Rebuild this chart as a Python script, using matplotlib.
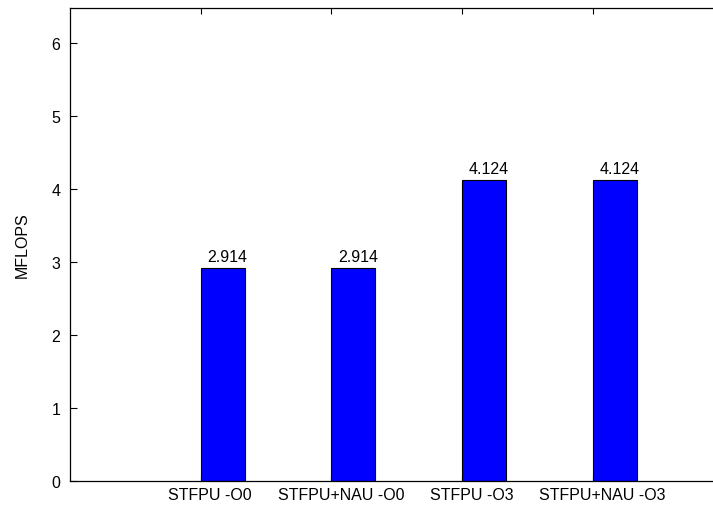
import matplotlib
matplotlib.use('Agg')
import matplotlib.pyplot as plt

plt.rcParams['font.family'] = ['Liberation Sans', 'DejaVu Sans']
plt.rcParams['font.size'] = 11.5

configs = ['STFPU -O0', 'STFPU+NAU -O0', 'STFPU -O3', 'STFPU+NAU -O3']
mflops = [2.914, 2.914, 4.124, 4.124]
value_labels = ['2.914', '2.914', '4.124', '4.124']
xpos = [1, 2, 3, 4]

bar_w = 0.336

fig = plt.figure(figsize=(7.13, 5.10), dpi=100)
ax = fig.add_axes([70/713, (510-482)/510, 653.5/713, 473/510])

# bars start at the tic and extend to the right, gnuplot-style
ax.bar(xpos, mflops, width=bar_w, align='edge', color='#0000ff',
       edgecolor='black', linewidth=0.8, zorder=2)

for x, v, s in zip(xpos, mflops, value_labels):
    ax.annotate(s, xy=(x + bar_w/2, v), xytext=(3.6, 5),
                textcoords='offset points', ha='center', va='baseline')

ax.set_xlim(0, 5)
ax.set_ylim(0, 6.48)
ax.set_yticks(range(0, 7))
ax.set_xticks(xpos)
ax.set_xticklabels([])

# category names sit a little right of their tics
for x, name in zip(xpos, configs):
    ax.annotate(name, xy=(x, 0), xycoords=('data', 'axes fraction'),
                xytext=(6.8, -4.5), textcoords='offset points',
                ha='center', va='top')

ax.tick_params(axis='y', direction='in', length=5, width=0.8, pad=7, left=True, right=False)
ax.tick_params(axis='x', direction='in', length=4.5, width=0.8, top=True, bottom=True)
for sp in ax.spines.values():
    sp.set_linewidth(0.9)
ax.spines['right'].set_visible(False)

fig.text(22/713, (510-245.5)/510, 'MFLOPS', rotation=90, ha='center', va='center')

fig.savefig('out.png', dpi=100)
